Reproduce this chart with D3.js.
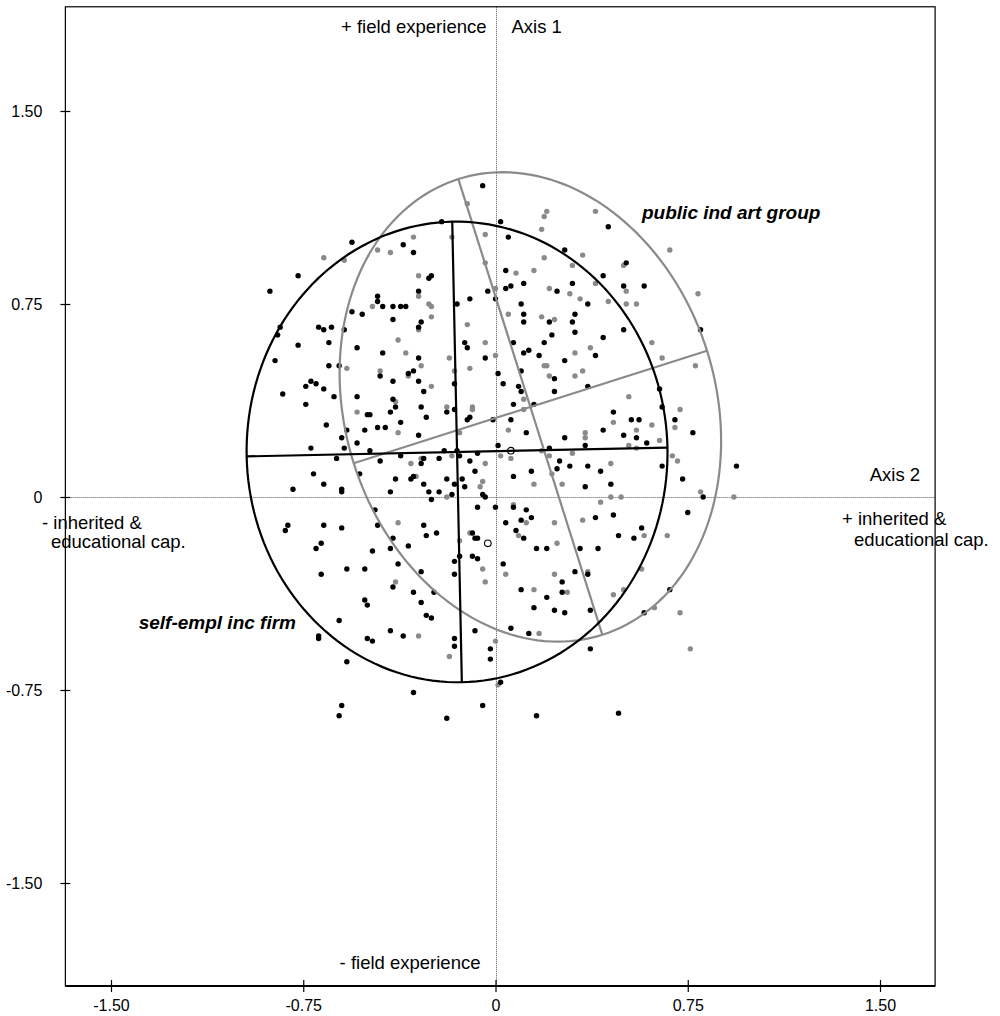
<!DOCTYPE html>
<html>
<head>
<meta charset="utf-8">
<script src="https://cdn.jsdelivr.net/npm/d3@7"></script>
<style>
  body { margin: 0; background: #fff; }
  svg { display: block; }
  text { font-family: "Liberation Sans", Arial, Helvetica, sans-serif; fill: #000; }
</style>
</head>
<body>
<svg id="chart" width="1000" height="1016"></svg>
<script>
// ---- axis ticks ----
const xTickValues = [-1.5, -0.75, 0, 0.75, 1.5];
const xTickLabels = ["-1.50", "-0.75", "0", "0.75", "1.50"];
const yTickValues = [-1.5, -0.75, 0, 0.75, 1.5];
const yTickLabels = ["-1.50", "-0.75", "0", "0.75", "1.50"];

// visible extent of the plane (data units)
const frameX = [-1.678, 1.715];
const frameY = [-1.90, 1.905];

// ---- individuals (Axis 2 coordinate, Axis 1 coordinate) ----
const selfEmplPoints = [
  [-0.21,1.07],[-0.56,0.99],[-0.36,0.98],[-0.32,0.95],[-0.77,0.86],[-0.88,0.80],[-0.26,0.85],[-0.25,0.86],
  [-0.30,0.80],[-0.46,0.78],[-0.46,0.76],[-0.44,0.74],[-0.40,0.74],[-0.37,0.74],[-0.35,0.74],[-0.56,0.72],
  [-0.52,0.71],[-0.40,0.69],[-0.29,0.68],[-0.15,0.75],[-0.10,0.77],[-0.30,0.66],[-0.69,0.66],[-0.67,0.65],
  [-0.64,0.66],[-0.59,0.65],[-0.84,0.66],[-0.85,0.63],[-0.77,0.59],[-0.65,0.60],[-0.54,0.58],[-0.44,0.56],
  [-0.30,0.54],[-0.12,0.60],[-0.11,0.58],[-0.86,0.53],
  [-0.05,1.21],[0.02,1.07],[0.05,1.01],[0.44,1.05],[0.27,0.96],[0.51,0.91],[0.42,0.86],[0.50,0.82],
  [0.58,0.82],[0.04,0.88],[-0.03,0.80],[0.04,0.81],[0.06,0.82],[0.11,0.83],[0.24,0.80],[0.30,0.83],
  [0.00,0.77],[0.10,0.75],[0.36,0.75],[0.11,0.71],[0.11,0.68],[0.31,0.71],[0.30,0.68],[0.21,0.68],
  [0.31,0.64],[0.22,0.63],[0.19,0.60],[0.42,0.62],[0.50,0.65],[0.07,0.60],[0.80,0.65],[0.11,0.56],
  [0.13,0.57],[0.17,0.55],[-0.04,0.54],[0.39,0.55],[0.27,0.53],
  [-0.65,0.51],[-0.61,0.51],[-0.45,0.47],[-0.32,0.49],[-0.34,0.48],[-0.40,0.45],[-0.30,0.45],[-0.74,0.43],
  [-0.72,0.45],[-0.70,0.44],[-0.67,0.42],[-0.28,0.41],[-0.16,0.44],[-0.83,0.40],[-0.63,0.39],[-0.54,0.39],
  [-0.74,0.36],[-0.40,0.38],[-0.39,0.35],[-0.41,0.33],[-0.29,0.35],[-0.19,0.33],[-0.16,0.34],[-0.50,0.32],
  [-0.49,0.32],[-0.27,0.31],[-0.11,0.30],[-0.10,0.31],[-0.66,0.28],[-0.37,0.29],[-0.58,0.26],[-0.51,0.26],
  [-0.46,0.27],[-0.43,0.27],[-0.60,0.23],[-0.30,0.24],[-0.54,0.21],[-0.59,0.19],[-0.72,0.19],[-0.49,0.18],
  [-0.62,0.15],[-0.45,0.14],[-0.37,0.16],[-0.28,0.15],[-0.29,0.13],[-0.22,0.15],[-0.20,0.18],[-0.15,0.18],
  [-0.14,0.16],[-0.10,0.14],[-0.53,0.09],[-0.71,0.09],[-0.67,0.05],[-0.79,0.03],[-0.60,0.03],[-0.60,0.02],
  [-0.39,0.07],[-0.33,0.07],[-0.32,0.08],[-0.28,0.05],[-0.19,0.07],[-0.16,0.05],[-0.13,0.07],[-0.12,0.04],
  [-0.41,0.02],[-0.26,0.02],[-0.25,-0.01],[-0.22,0.02],[-0.17,0.01],[-0.47,-0.05],[-0.81,-0.11],[-0.82,-0.13],
  [-0.67,-0.11],[-0.60,-0.12],[-0.46,-0.11],[-0.28,-0.11],[-0.27,-0.15],[-0.23,-0.14],[-0.68,-0.18],[-0.70,-0.20],
  [-0.40,-0.16],[-0.48,-0.21],[-0.41,-0.20],[-0.34,-0.19],
  [0.01,0.48],[0.03,0.44],[0.09,0.43],[0.10,0.41],[0.10,0.49],[0.23,0.46],[0.23,0.41],[0.36,0.43],
  [0.07,0.36],[0.15,0.36],[0.64,0.42],[0.65,0.35],[0.46,0.33],[0.53,0.30],[0.56,0.30],[0.70,0.30],
  [-0.01,0.30],[0.06,0.30],[0.12,0.25],[0.42,0.26],[0.50,0.24],[0.55,0.23],[0.59,0.21],[0.77,0.25],
  [0.27,0.23],[0.01,0.20],[0.35,0.20],[0.21,0.19],[-0.07,0.17],[0.25,0.14],[0.29,0.12],[0.24,0.11],
  [0.36,0.12],[0.14,0.10],[-0.08,0.10],[0.41,0.10],[0.65,0.12],[0.73,0.07],[0.07,0.08],[0.45,0.05],
  [0.35,0.04],[-0.05,0.01],[-0.04,0.00],[0.81,0.00],[-0.07,-0.04],[0.00,-0.04],[0.07,-0.04],[0.12,-0.05],
  [0.14,-0.08],[0.10,-0.09],[0.04,-0.10],[0.39,-0.08],[0.46,-0.07],[0.75,-0.06],[0.08,-0.13],[-0.09,-0.14],
  [-0.08,-0.16],[-0.07,-0.16],[0.11,-0.16],[0.57,-0.12],[0.54,-0.16],[0.48,-0.15],[0.16,-0.20],[0.20,-0.20],
  [0.33,-0.20],[0.40,-0.20],[0.94,0.12],
  [-0.14,-0.23],[-0.16,-0.25],[-0.16,-0.30],[-0.58,-0.28],[-0.51,-0.28],[-0.68,-0.30],[-0.38,-0.26],[-0.29,-0.29],
  [-0.40,-0.35],[-0.32,-0.37],[-0.24,-0.37],[-0.51,-0.40],[-0.50,-0.42],[-0.29,-0.41],[-0.27,-0.46],[-0.25,-0.47],
  [-0.61,-0.48],[-0.69,-0.54],[-0.69,-0.55],[-0.50,-0.55],[-0.48,-0.56],[-0.41,-0.52],[-0.36,-0.54],[-0.16,-0.55],
  [-0.16,-0.58],[-0.58,-0.64],[-0.32,-0.76],[-0.60,-0.81],[-0.61,-0.85],[-0.19,-0.86],
  [-0.09,-0.23],[-0.07,-0.24],[0.03,-0.26],[0.31,-0.29],[0.36,-0.30],[0.26,-0.33],[0.26,-0.37],[0.10,-0.36],
  [0.20,-0.39],[0.15,-0.43],[0.23,-0.44],[0.27,-0.45],[0.37,-0.44],[-0.08,-0.52],[0.06,-0.51],[0.13,-0.53],
  [0.58,-0.45],[0.68,-0.36],[-0.02,-0.59],[-0.02,-0.63],[0.37,-0.59],[0.02,-0.72],[-0.05,-0.81],[0.16,-0.85],
  [0.48,-0.84]
];

const publicArtPoints = [
  [-0.67,0.93],[-0.59,0.92],[-0.46,0.96],[-0.32,1.01],[-0.41,0.95],[-0.17,1.01],[-0.11,1.14],[-0.30,0.86],
  [-0.30,0.78],[-0.48,0.74],[-0.26,0.75],[-0.25,0.74],[-0.25,0.70],[-0.30,0.65],[-0.38,0.61],[-0.35,0.56],
  [-0.18,0.54],[-0.11,0.67],
  [0.20,1.11],[0.19,1.09],[0.39,1.11],[0.18,1.04],[-0.04,1.02],[0.68,0.96],[0.34,0.94],[0.19,0.93],
  [0.30,0.90],[0.50,0.90],[-0.04,0.91],[0.15,0.88],[0.08,0.87],[0.21,0.81],[0.39,0.83],[0.51,0.80],
  [0.79,0.79],[0.29,0.79],[0.33,0.77],[0.44,0.76],[0.51,0.75],[0.55,0.75],[0.00,0.81],[0.05,0.71],
  [0.18,0.70],[0.23,0.69],[-0.04,0.60],[0.37,0.58],[0.61,0.60],[0.31,0.56],[0.00,0.55],[0.65,0.54],
  [-0.58,0.50],[-0.45,0.49],[-0.29,0.51],[-0.34,0.47],[-0.25,0.43],[-0.16,0.49],[-0.10,0.50],[-0.39,0.37],
  [-0.54,0.33],[-0.19,0.35],[-0.38,0.25],[-0.14,0.25],[-0.33,0.13],[-0.29,0.15],[-0.17,0.16],[-0.31,0.08],
  [-0.19,0.00],[-0.38,-0.10],[-0.14,-0.17],[-0.10,-0.14],
  [0.19,0.51],[0.20,0.51],[0.21,0.47],[0.31,0.47],[0.34,0.49],[0.78,0.51],[0.52,0.39],[0.72,0.34],
  [0.11,0.38],[0.11,0.34],[-0.09,0.35],[-0.09,0.34],[0.46,0.29],[0.61,0.28],[0.55,0.26],[0.70,0.27],
  [0.05,0.26],[0.35,0.25],[0.35,0.23],[0.64,0.22],[0.52,0.20],[0.55,0.19],[0.30,0.17],[0.21,0.16],
  [0.18,0.18],[0.06,0.15],[0.02,0.16],[-0.04,0.13],[0.69,0.16],[0.71,0.14],[0.45,0.13],[0.22,0.09],
  [0.15,0.05],[0.26,0.05],[-0.05,0.06],[-0.06,0.04],[0.80,0.02],[0.41,-0.02],[0.45,0.00],[0.49,0.00],
  [0.07,-0.03],[0.12,-0.10],[0.23,-0.10],[0.34,-0.09],[0.09,-0.15],[0.58,-0.15],[0.67,-0.15],[0.24,-0.18],
  [0.93,0.00],
  [-0.39,-0.33],[-0.30,-0.54],[-0.18,-0.62],
  [-0.05,-0.28],[-0.04,-0.33],[0.04,-0.30],[0.23,-0.30],[0.36,-0.29],[0.15,-0.36],[0.28,-0.37],[0.46,-0.38],
  [0.50,-0.36],[0.57,-0.28],[0.17,-0.53],[0.62,-0.43],[0.72,-0.45],[0.00,-0.56],[0.76,-0.59],[0.01,-0.73]
];

// supplementary points drawn as open circles
const openPoints = [[0.06, 0.18], [-0.03, -0.18]];

// ---- concentration ellipses ----
const groupNames = ["self-empl inc firm", "public ind art group"];
const groupCenters = [[-0.150, 0.175], [0.136, 0.350]];
const groupSemiAxes = [[0.821, 0.895], [0.723, 0.929]]; // along the rotated first axis, then the second
const groupAngles = [1.2, 17.6]; // rotation in degrees
const groupColors = ["#000000", "#8a8a8a"];

// ---- scales ----
const x = d3.scaleLinear().domain([-1.5, 1.5]).range([111, 880]);
const y = d3.scaleLinear().domain([-1.5, 1.5]).range([883, 111]);

const svg = d3.select("#chart");
const frameLeft = x(frameX[0]), frameRight = x(frameX[1]);
const frameTop = y(frameY[1]), frameBottom = y(frameY[0]);

// dotted reference axes through the origin
const ref = svg.append("g").attr("stroke", "#555").attr("stroke-width", 1).attr("stroke-dasharray", "1,1");
ref.append("line").attr("x1", Math.round(x(0)) + 0.5).attr("x2", Math.round(x(0)) + 0.5).attr("y1", frameTop).attr("y2", frameBottom);
ref.append("line").attr("x1", frameLeft).attr("x2", frameRight).attr("y1", Math.round(y(0)) + 0.5).attr("y2", Math.round(y(0)) + 0.5);

// individuals
svg.append("g").selectAll("circle").data(publicArtPoints).join("circle")
  .attr("cx", d => x(d[0])).attr("cy", d => y(d[1])).attr("r", 2.7).attr("fill", "#8a8a8a");
svg.append("g").selectAll("circle").data(selfEmplPoints).join("circle")
  .attr("cx", d => x(d[0])).attr("cy", d => y(d[1])).attr("r", 2.7).attr("fill", "#000000");
svg.append("g").selectAll("circle").data(openPoints).join("circle")
  .attr("cx", d => x(d[0])).attr("cy", d => y(d[1])).attr("r", 3.3)
  .attr("fill", "#fff").attr("stroke", "#000").attr("stroke-width", 1.1);

// ellipses with their principal axes
const lineGen = d3.line().x(d => x(d[0])).y(d => y(d[1])).curve(d3.curveLinearClosed);
[1, 0].forEach(i => {
  const [cx, cy] = groupCenters[i];
  const [a, b] = groupSemiAxes[i];
  const th = groupAngles[i] * Math.PI / 180;
  const c = Math.cos(th), s = Math.sin(th);
  const outline = d3.range(0, 360, 2).map(deg => {
    const t = deg * Math.PI / 180;
    const u = a * Math.cos(t), v = b * Math.sin(t);
    return [cx + u * c - v * s, cy + u * s + v * c];
  });
  const g = svg.append("g").attr("fill", "none").attr("stroke", groupColors[i]).attr("stroke-width", 2.2);
  g.append("path").attr("d", lineGen(outline));
  const segs = [
    [[cx - a * c, cy - a * s], [cx + a * c, cy + a * s]],
    [[cx + b * s, cy - b * c], [cx - b * s, cy + b * c]]
  ];
  segs.forEach(sg => g.append("line")
    .attr("x1", x(sg[0][0])).attr("y1", y(sg[0][1]))
    .attr("x2", x(sg[1][0])).attr("y2", y(sg[1][1])));
});

// frame
svg.append("rect").attr("x", frameLeft).attr("y", frameTop)
  .attr("width", frameRight - frameLeft).attr("height", frameBottom - frameTop)
  .attr("fill", "none").attr("stroke", "#000").attr("stroke-width", 1.2);
svg.append("line").attr("x1", frameLeft).attr("x2", frameRight).attr("y1", frameBottom).attr("y2", frameBottom)
  .attr("stroke", "#000").attr("stroke-width", 2);

// axes
const xAxis = svg.append("g").attr("transform", `translate(0,${frameBottom})`)
  .call(d3.axisBottom(x).tickValues(xTickValues).tickFormat((d, i) => xTickLabels[i]).tickSize(6).tickPadding(8));
xAxis.select(".domain").remove();
xAxis.selectAll(".tick line").attr("y1", -6).attr("stroke-width", 1.2);
xAxis.selectAll("text").attr("font-size", 16).attr("font-family", "Liberation Sans, Arial, sans-serif");

const yAxis = svg.append("g").attr("transform", `translate(${frameLeft},0)`)
  .call(d3.axisLeft(y).tickValues(yTickValues).tickFormat((d, i) => yTickLabels[i]).tickSize(5).tickPadding(18));
yAxis.select(".domain").remove();
yAxis.selectAll(".tick line").attr("x1", 5).attr("stroke-width", 1.2);
yAxis.selectAll("text").attr("font-size", 16).attr("font-family", "Liberation Sans, Arial, sans-serif");

// axis captions
const cap = svg.append("g").attr("font-size", 18.5);
cap.append("text").attr("x", x(0) - 9).attr("y", frameTop + 26).attr("text-anchor", "end").text("+ field experience");
cap.append("text").attr("x", x(0) + 16).attr("y", frameTop + 26).text("Axis 1");
cap.append("text").attr("x", x(0) - 15).attr("y", frameBottom - 17).attr("text-anchor", "end").text("- field experience");
cap.append("text").attr("x", frameRight - 15).attr("y", y(0) - 16).attr("text-anchor", "end").text("Axis 2");
cap.append("text").attr("x", 842).attr("y", y(0) + 28).text("+ inherited &");
cap.append("text").attr("x", 854).attr("y", y(0) + 49).text("educational cap.");
cap.append("text").attr("x", 42).attr("y", y(0) + 32).text("- inherited &");
cap.append("text").attr("x", 51).attr("y", y(0) + 51).text("educational cap.");

// group names
const names = svg.append("g").attr("font-size", 19).attr("font-weight", "bold").attr("font-style", "italic");
names.append("text").attr("x", 642).attr("y", 219).text(groupNames[1]);
names.append("text").attr("x", 296).attr("y", 629).attr("text-anchor", "end").text(groupNames[0]);
</script>
</body>
</html>
